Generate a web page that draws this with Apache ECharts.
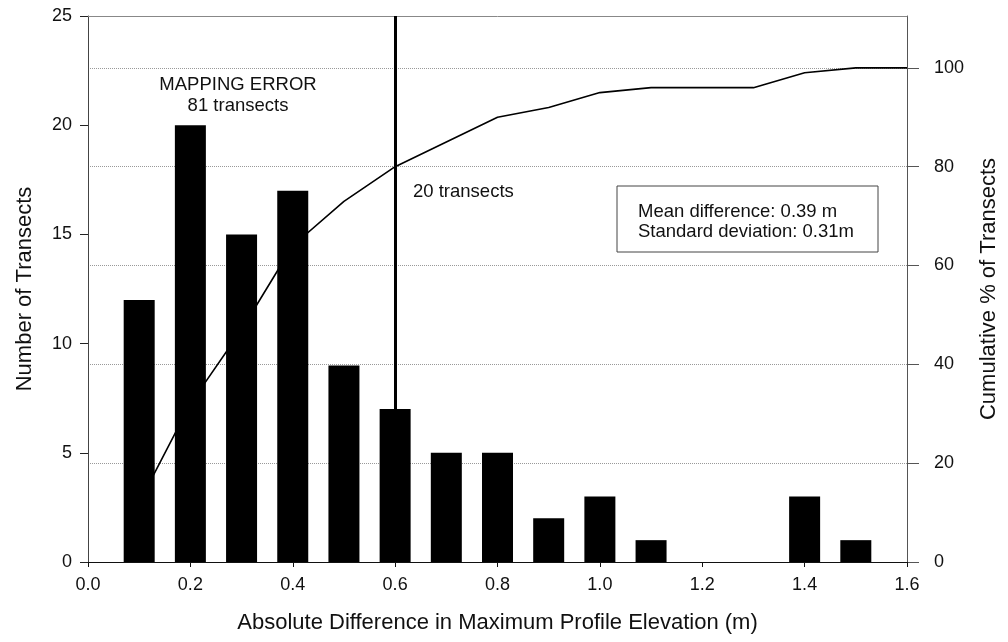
<!DOCTYPE html>
<html>
<head>
<meta charset="utf-8">
<title>Transects</title>
<script src="https://cdn.jsdelivr.net/npm/echarts@6/dist/echarts.min.js"></script>
<style>
  html, body { margin: 0; padding: 0; background: #fff; }
  #chart { width: 1008px; height: 642px; }
</style>
</head>
<body>
<div id="chart"></div>
<script>
    "use strict";
    // bin centres (m) and counts
    var binCenters = [0.1, 0.2, 0.3, 0.4, 0.5, 0.6, 0.7, 0.8, 0.9, 1.0, 1.1, 1.2, 1.3, 1.4, 1.5];
    var counts = [12, 20, 15, 17, 9, 7, 5, 5, 2, 3, 1, 0, 0, 3, 1];
    // cumulative % curve
    var cumX = [0.1, 0.2, 0.3, 0.4, 0.5, 0.6, 0.7, 0.8, 0.9, 1.0, 1.1, 1.2, 1.3, 1.4, 1.5, 1.6];
    var cumPct = [12, 32, 47, 64, 73, 80, 85, 90, 92, 95, 96, 96, 96, 99, 100, 100];
    var xTicks = [0, 0.2, 0.4, 0.6, 0.8, 1.0, 1.2, 1.4, 1.6];
    var splitAt = 0.6;

    var font = "'Liberation Sans', Arial, sans-serif";

    var chart = echarts.init(document.getElementById("chart"));

    var barData = [];
    for (var i = 0; i < binCenters.length; i++) {
        barData.push([binCenters[i], counts[i]]);
    }
    var lineData = [];
    for (var j = 0; j < cumX.length; j++) {
        lineData.push([cumX[j], cumPct[j]]);
    }

    var option = {
        animation: false,
        backgroundColor: '#fff',
        textStyle: { fontFamily: font, color: '#111' },
        grid: { left: 88, right: 100, top: 16, bottom: 80 },
        xAxis: [{
            type: 'value',
            min: xTicks[0],
            max: xTicks[xTicks.length - 1],
            interval: 0.2,
            name: 'Absolute Difference in Maximum Profile Elevation (m)',
            nameLocation: 'middle',
            nameGap: 50,
            nameTextStyle: { fontSize: 22, color: '#111', fontFamily: font },
            axisLine: { onZero: false, lineStyle: { color: '#111', width: 1 } },
            axisTick: { show: true, length: 5, lineStyle: { color: '#111' } },
            axisLabel: {
                fontSize: 18, color: '#111', margin: 14, fontFamily: font,
                formatter: function (v) { return v.toFixed(1); }
            },
            splitLine: { show: false }
        }, {
            // frame along the top
            type: 'value',
            position: 'top',
            min: 0, max: 1.6,
            axisLine: { show: true, onZero: false, lineStyle: { color: '#888' } },
            axisTick: { show: false },
            axisLabel: { show: false },
            splitLine: { show: false }
        }],
        yAxis: [{
            type: 'value',
            min: 0, max: 25, interval: 5,
            name: 'Number of Transects',
            nameLocation: 'middle',
            nameGap: 52,
            nameRotate: 90,
            nameTextStyle: { fontSize: 22, color: '#111', fontFamily: font },
            axisLine: { show: true, onZero: false, lineStyle: { color: '#444' } },
            axisTick: { show: true, length: 8, lineStyle: { color: '#222' } },
            axisLabel: { fontSize: 18, color: '#111', margin: 16, fontFamily: font },
            splitLine: { show: false }
        }, {
            type: 'value',
            position: 'right',
            min: 0, max: 110.5, interval: 20,
            name: 'Cumulative % of Transects',
            nameLocation: 'middle',
            nameGap: 71,
            nameRotate: 90,
            nameTextStyle: { fontSize: 22, color: '#111', fontFamily: font },
            axisLine: { show: true, onZero: false, lineStyle: { color: '#555' } },
            axisTick: { show: true, length: 12, lineStyle: { color: '#555' } },
            axisLabel: {
                fontSize: 18, color: '#111', margin: 27, fontFamily: font,
                showMaxLabel: false
            },
            splitLine: { show: true, lineStyle: { color: '#999', type: 'dotted', width: 1 } }
        }],
        series: [{
            type: 'bar',
            xAxisIndex: 0,
            yAxisIndex: 0,
            data: barData,
            barWidth: 31,
            itemStyle: { color: '#000' },
            z: 3,
            markLine: {
                silent: true,
                symbol: ['none', 'none'],
                label: { show: false },
                lineStyle: { color: '#000', width: 3, type: 'solid' },
                data: [{ xAxis: splitAt }]
            }
        }, {
            type: 'line',
            xAxisIndex: 0,
            yAxisIndex: 1,
            data: lineData,
            showSymbol: false,
            symbol: 'none',
            lineStyle: { color: '#000', width: 1.6 },
            z: 2
        }]
    };

    // annotation texts
    var annFont = '18.5px ' + font;
    option.graphic = [
        { type: 'text', z: 50, style: { text: 'MAPPING ERROR', x: 238, y: 85, font: annFont, fill: '#111', align: 'center', verticalAlign: 'middle' } },
        { type: 'text', z: 50, style: { text: '81 transects', x: 238, y: 106, font: annFont, fill: '#111', align: 'center', verticalAlign: 'middle' } },
        { type: 'text', z: 50, style: { text: '20 transects', x: 413, y: 192, font: annFont, fill: '#111', align: 'left', verticalAlign: 'middle' } },
        { type: 'rect', z: 50, shape: { x: 617, y: 186, width: 261, height: 66 }, style: { fill: '#fff', stroke: '#444', lineWidth: 1 } },
        { type: 'text', z: 51, style: { text: 'Mean difference: 0.39 m', x: 638, y: 212, font: annFont, fill: '#111', align: 'left', verticalAlign: 'middle' } },
        { type: 'text', z: 51, style: { text: 'Standard deviation: 0.31m', x: 638, y: 232, font: annFont, fill: '#111', align: 'left', verticalAlign: 'middle' } }
    ];

    chart.setOption(option);
</script>
</body>
</html>
